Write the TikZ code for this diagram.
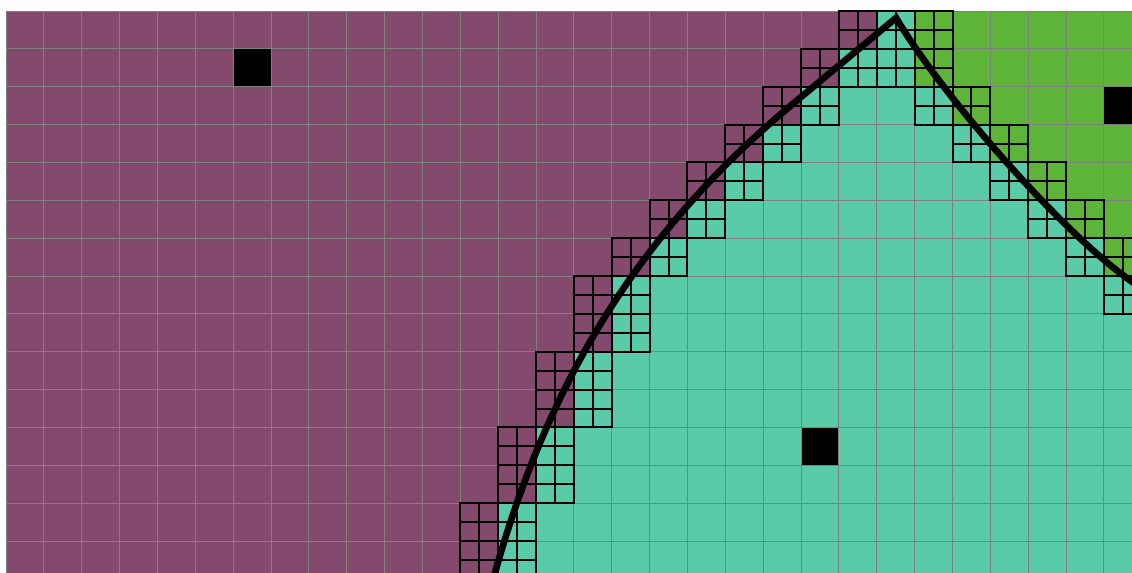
\documentclass[tikz,border=0pt]{standalone}
\definecolor{pur}{RGB}{131,74,110}
\definecolor{tea}{RGB}{90,203,169}
\definecolor{grn}{RGB}{94,180,57}
\definecolor{gline}{RGB}{128,128,128}
\begin{document}
\begin{tikzpicture}[x=1cm,y=-1cm,
  gridline/.style={draw=gline, line width=0.75pt},
  refined/.style={draw=black, line width=1.5pt, line cap=rect},
  iface/.style={draw=black, line width=5pt, line join=miter}]
\useasboundingbox (-0.1585,-0.2905) rectangle (29.741,14.844);
\begin{scope}
\clip (-0.1585,-0.2905) rectangle (29.741,14.844);
% coarse colours
\fill[pur] (0,0) rectangle (31,16);
\foreach \r/\t/\g in {0/23/24,1/22/24,2/21/25,3/20/26,4/19/27,5/18/28,6/17/29,7/16/30,8/16/40,9/15/40,10/15/40,11/14/40,12/14/40,13/13/40,14/13/40}{
  \fill[tea] (\t,\r) rectangle (\g,\r+1);
  \fill[grn] (\g,\r) rectangle (\g+10,\r+1);
}
% black cells
\fill[black] (6,1) rectangle (7,2);
\fill[black] (21,11) rectangle (22,12);
\fill[black] (29,2) rectangle (30,3);
% coarse grid
\draw[gridline] (0,0) grid (31,16);
% refined cells (2x2)
\foreach \r/\t/\g in {0/23/24,1/22/24,2/21/25,3/20/26,4/19/27,5/18/28,6/17/29,7/16/30,8/16/40,9/15/40,10/15/40,11/14/40,12/14/40,13/13/40,14/13/40}{
  \foreach \c in {\t,\g}{
    \draw[refined] (\c-1,\r) rectangle (\c+1,\r+1)
      (\c-0.5,\r) -- (\c-0.5,\r+1)
      (\c,\r) -- (\c,\r+1)
      (\c+0.5,\r) -- (\c+0.5,\r+1)
      (\c-1,\r+0.5) -- (\c+1,\r+0.5);
  }
}
% interface
\draw[iface] plot[domain=15.3:0.18, samples=90, variable=\v]
   ({23.51-1.2*min(\v-0.18,2.32)-10.2*(1-exp(-max(\v-2.5,0)/8.5))},{\v})
   .. controls (24.8,2.35) and (28.0,5.95) .. (29.74,7.15) -- (30.4,7.61);
\end{scope}
\end{tikzpicture}
\end{document}
